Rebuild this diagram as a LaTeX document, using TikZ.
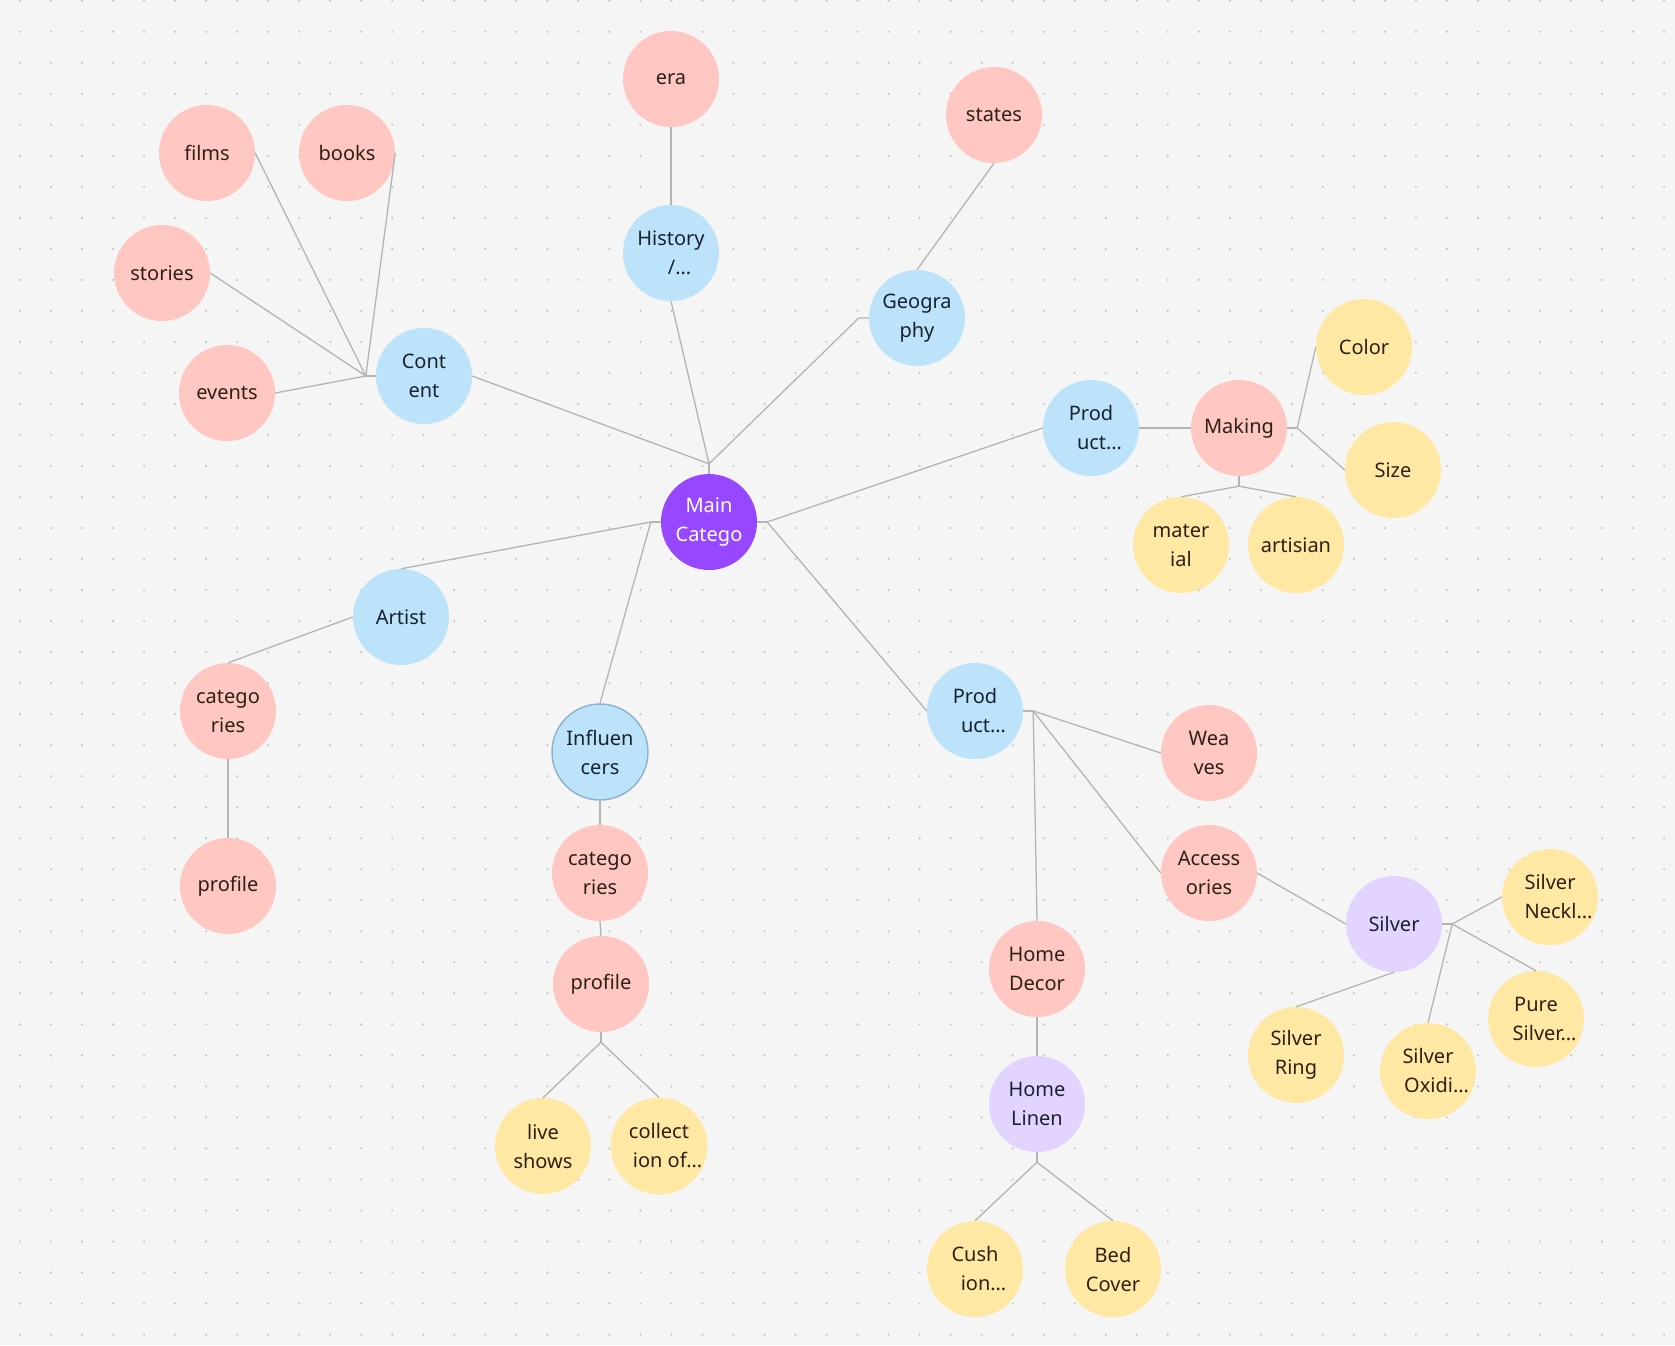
\documentclass[tikz,border=0pt]{standalone}
\usepackage{fontspec}
\setmainfont{Noto Sans}
\usepackage{tikz}

\definecolor{canvas}{HTML}{F5F5F5}
\definecolor{dotgray}{HTML}{C6C6C6}
\definecolor{linegray}{HTML}{B4B4B4}
\definecolor{mainpurple}{HTML}{9747FF}
\definecolor{topicblue}{HTML}{BDE3FA}
\definecolor{subpink}{HTML}{FFC7C2}
\definecolor{leafyellow}{HTML}{FFE8A3}
\definecolor{grouplilac}{HTML}{E3D4FF}
\definecolor{inkblue}{HTML}{18222F}
\definecolor{inkbrown}{HTML}{2E2016}
\definecolor{ringblue}{HTML}{8DB2CC}

\newcommand{\cut}[1]{\hspace*{17pt}#1…}

\tikzset{
  bubble/.style={circle, minimum size=96pt, inner sep=0pt, align=center,
    font=\fontsize{20}{29}\selectfont},
  hub/.style={bubble, fill=mainpurple, text=white},
  topic/.style={bubble, fill=topicblue, text=inkblue},
  sub/.style={bubble, fill=subpink, text=inkbrown},
  leaf/.style={bubble, fill=leafyellow, text=inkbrown},
  group/.style={bubble, fill=grouplilac, text=inkblue},
  link/.style={draw=linegray, line width=1.3pt},
}

\begin{document}
\begin{tikzpicture}[x=1pt, y=-1pt]

\fill[canvas] (0,0) rectangle (1675,1345);
\useasboundingbox (0,0) rectangle (1675,1345);
\foreach \i in {0,...,53}
  \foreach \j in {0,...,43}
    \fill[dotgray] (20+31.02*\i, 0.7+31.02*\j) circle (1.2pt);

\node (main) at (709,522) [hub] {Main\\Catego};

\node (content) at (424,376) [topic] {Cont\\ent};
\node (films) at (207,153) [sub] {films};
\node (books) at (347,153) [sub] {books};
\node (stories) at (162,273) [sub] {stories};
\node (events) at (227,393) [sub] {events};

\node (history) at (671,253) [topic] {History\\\cut{/}};
\node (era) at (671,79) [sub] {era};

\node (geo) at (917,318) [topic] {Geogra\\phy};
\node (states) at (994,115) [sub] {states};

\node (produp) at (1091,428) [topic] {Prod\\\cut{uct}};
\node (making) at (1239,428) [sub] {Making};
\node (color) at (1364,347) [leaf] {Color};
\node (size) at (1393,470) [leaf] {Size};
\node (material) at (1181,545) [leaf] {mater\\ial};
\node (artisian) at (1296,545) [leaf] {artisian};

\node (artist) at (401,617) [topic] {Artist};
\node (artcat) at (228,711) [sub] {catego\\ries};
\node (artprof) at (228,886) [sub] {profile};

\node (infl) at (600,752) [topic, draw=ringblue, line width=1.4pt] {Influen\\cers};
\node (inflcat) at (600,873) [sub] {catego\\ries};
\node (inflprof) at (601,984) [sub] {profile};
\node (live) at (543,1146) [leaf] {live\\shows};
\node (collect) at (659,1146) [leaf] {collect\\\cut{ion of}};

\node (proddown) at (975,711) [topic] {Prod\\\cut{uct}};
\node (weaves) at (1209,753) [sub] {Wea\\ves};
\node (acc) at (1209,873) [sub] {Access\\ories};
\node (silver) at (1394,924) [group] {Silver};
\node (neckl) at (1550,897) [leaf] {Silver\\\cut{Neckl}};
\node (pure) at (1536,1019) [leaf] {Pure\\\cut{Silver}};
\node (oxidi) at (1428,1071) [leaf] {Silver\\\cut{Oxidi}};
\node (ring) at (1296,1055) [leaf] {Silver\\Ring};
\node (decor) at (1037,969) [sub] {Home\\Decor};
\node (linen) at (1037,1104) [group] {Home\\Linen};
\node (cushion) at (975,1269) [leaf] {Cush\\\cut{ion}};
\node (bed) at (1113,1269) [leaf] {Bed\\Cover};

\draw[link] (main.north) -- ++(0,-10) coordinate (maintop);
\draw[link] (main.west) -- ++(-10,0) coordinate (mainleft);
\draw[link] (main.east) -- ++(10,0) coordinate (mainright);

\draw[link] (maintop) -- (content.east);
\draw[link] (maintop) -- (history.south);
\draw[link] (maintop) -- ([xshift=-10pt]geo.west) -- (geo.west);
\draw[link] (mainleft) -- (artist.north);
\draw[link] (mainleft) -- (infl.north);
\draw[link] (mainright) -- (produp.west);
\draw[link] (mainright) -- (proddown.west);

\draw[link] (content.west) -- ++(-10,0) coordinate (contenthub);
\draw[link] (contenthub) -- (films.east);
\draw[link] (contenthub) -- (books.east);
\draw[link] (contenthub) -- (stories.east);
\draw[link] (contenthub) -- (events.east);

\draw[link] (history.north) -- (era.south);
\draw[link] (geo.north) -- (states.south);

\draw[link] (produp.east) -- (making.west);
\draw[link] (making.east) -- ++(10,0) coordinate (makingright);
\draw[link] (makingright) -- (color.west);
\draw[link] (makingright) -- (size.west);
\draw[link] (making.south) -- ++(0,10) coordinate (makingdown);
\draw[link] (makingdown) -- (material.north);
\draw[link] (makingdown) -- (artisian.north);

\draw[link] (artist.west) -- (artcat.north);
\draw[link] (artcat.south) -- (artprof.north);

\draw[link] (infl.south) -- (inflcat.north);
\draw[link] (inflcat.south) -- (inflprof.north);
\draw[link] (inflprof.south) -- ++(0,10) coordinate (profdown);
\draw[link] (profdown) -- (live.north);
\draw[link] (profdown) -- (collect.north);

\draw[link] (proddown.east) -- ++(10,0) coordinate (prodright);
\draw[link] (prodright) -- (weaves.west);
\draw[link] (prodright) -- (acc.west);
\draw[link] (prodright) -- (decor.north);
\draw[link] (acc.east) -- (silver.west);
\draw[link] (silver.east) -- ++(10,0) coordinate (silverright);
\draw[link] (silverright) -- (neckl.west);
\draw[link] (silverright) -- (pure.north);
\draw[link] (silverright) -- (oxidi.north);
\draw[link] (silver.south) -- (ring.north);
\draw[link] (decor.south) -- (linen.north);
\draw[link] (linen.south) -- ++(0,10) coordinate (linendown);
\draw[link] (linendown) -- (cushion.north);
\draw[link] (linendown) -- (bed.north);

\end{tikzpicture}
\end{document}
